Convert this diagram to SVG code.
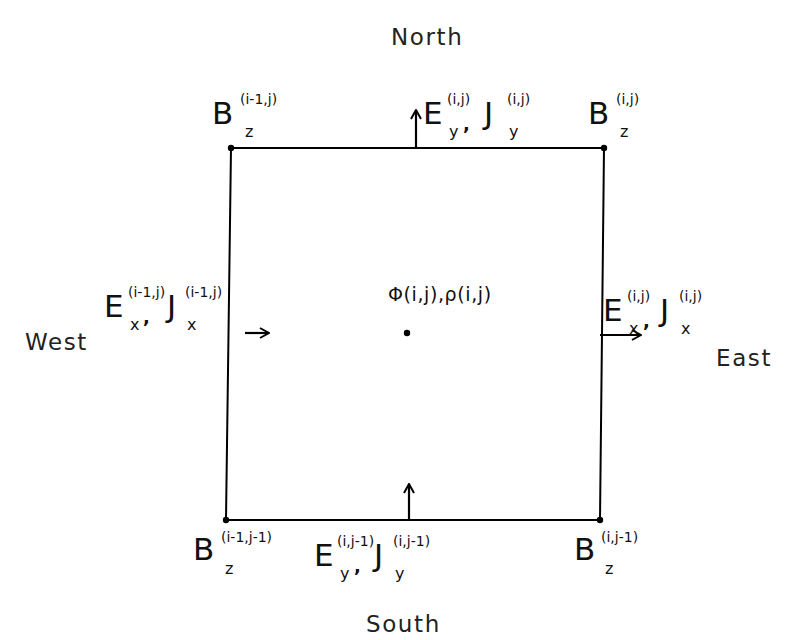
<svg xmlns="http://www.w3.org/2000/svg" width="790" height="640" viewBox="0 0 790 640">
<defs>
<marker id="ah" viewBox="0 0 12 12" refX="11" refY="6" markerWidth="12" markerHeight="12" markerUnits="userSpaceOnUse" orient="auto">
<path d="M2,1 L11,6 L2,11" fill="none" stroke="#000" stroke-width="2"/>
</marker>
<style>
text{font-family:"DejaVu Sans","Liberation Sans",sans-serif;fill:#111}
.big{font-size:31px}
.sup{font-size:14px}
.sub{font-size:16px}
.cm{font-size:18px;font-weight:bold}
.dir{font-size:23px;fill:#222;letter-spacing:1.6px}
.edge{stroke:#000;stroke-width:2;fill:none}
.arr{stroke:#000;stroke-width:2.2;fill:none;marker-end:url(#ah)}
.dot{fill:#000}
</style>
</defs>
<rect width="790" height="640" fill="#fff"/>
<g id="cell">
<path class="edge" d="M231,148 L604,148 L600,520 L226,520 Z"/>
<circle class="dot" cx="231" cy="148" r="3.2"/>
<circle class="dot" cx="604" cy="148" r="3.2"/>
<circle class="dot" cx="600" cy="520" r="3.2"/>
<circle class="dot" cx="226" cy="520" r="3.2"/>
</g>
<g id="center">
<circle class="dot" cx="407" cy="333" r="3.2"/>
<text x="388" y="301" style="font-size:19px;letter-spacing:0.6px">Φ(i,j),ρ(i,j)</text>
</g>
<g id="connectors">
<line class="arr" x1="416" y1="148" x2="416" y2="110"/>
<line class="arr" x1="245" y1="333" x2="269" y2="333"/>
<line class="arr" x1="600" y1="335" x2="641" y2="335"/>
<line class="arr" x1="409" y1="520" x2="409" y2="484"/>
</g>
<g id="north"><text class="dir" x="391" y="45">North</text></g>
<g id="south"><text class="dir" x="366" y="632">South</text></g>
<g id="west"><text class="dir" x="25" y="350">West</text></g>
<g id="east"><text class="dir" x="716" y="366">East</text></g>
<g id="bz-nw">
<text class="big" x="212" y="124">B</text>
<text class="sup" x="240" y="104">(i-1,j)</text>
<text class="sub" x="245" y="137">z</text>
</g>
<g id="ey-n">
<text class="big" x="423" y="124">E</text>
<text class="sup" x="447" y="104">(i,j)</text>
<text class="sub" x="449" y="137">y</text>
<text class="cm" x="463" y="130">,</text>
<text class="big" x="484" y="124">J</text>
<text class="sup" x="507" y="104">(i,j)</text>
<text class="sub" x="509" y="137">y</text>
</g>
<g id="bz-ne">
<text class="big" x="588" y="124">B</text>
<text class="sup" x="616" y="104">(i,j)</text>
<text class="sub" x="620" y="137">z</text>
</g>
<g id="ex-w">
<text class="big" x="104" y="317">E</text>
<text class="sup" x="128" y="297">(i-1,j)</text>
<text class="sub" x="130" y="330">x</text>
<text class="cm" x="143" y="323">,</text>
<text class="big" x="167" y="317">J</text>
<text class="sup" x="185" y="297">(i-1,j)</text>
<text class="sub" x="187" y="330">x</text>
</g>
<g id="ex-e">
<text class="big" x="603" y="321">E</text>
<text class="sup" x="627" y="301">(i,j)</text>
<text class="sub" x="629" y="334">x</text>
<text class="cm" x="643" y="327">,</text>
<text class="big" x="660" y="321">J</text>
<text class="sup" x="679" y="301">(i,j)</text>
<text class="sub" x="681" y="334">x</text>
</g>
<g id="bz-sw">
<text class="big" x="193" y="560">B</text>
<text class="sup" x="221" y="542">(i-1,j-1)</text>
<text class="sub" x="225" y="574">z</text>
</g>
<g id="ey-s">
<text class="big" x="314" y="566">E</text>
<text class="sup" x="337" y="546">(i,j-1)</text>
<text class="sub" x="340" y="579">y</text>
<text class="cm" x="354" y="572">,</text>
<text class="big" x="374" y="566">J</text>
<text class="sup" x="393" y="546">(i,j-1)</text>
<text class="sub" x="395" y="579">y</text>
</g>
<g id="bz-se">
<text class="big" x="574" y="560">B</text>
<text class="sup" x="601" y="542">(i,j-1)</text>
<text class="sub" x="605" y="574">z</text>
</g>
</svg>
